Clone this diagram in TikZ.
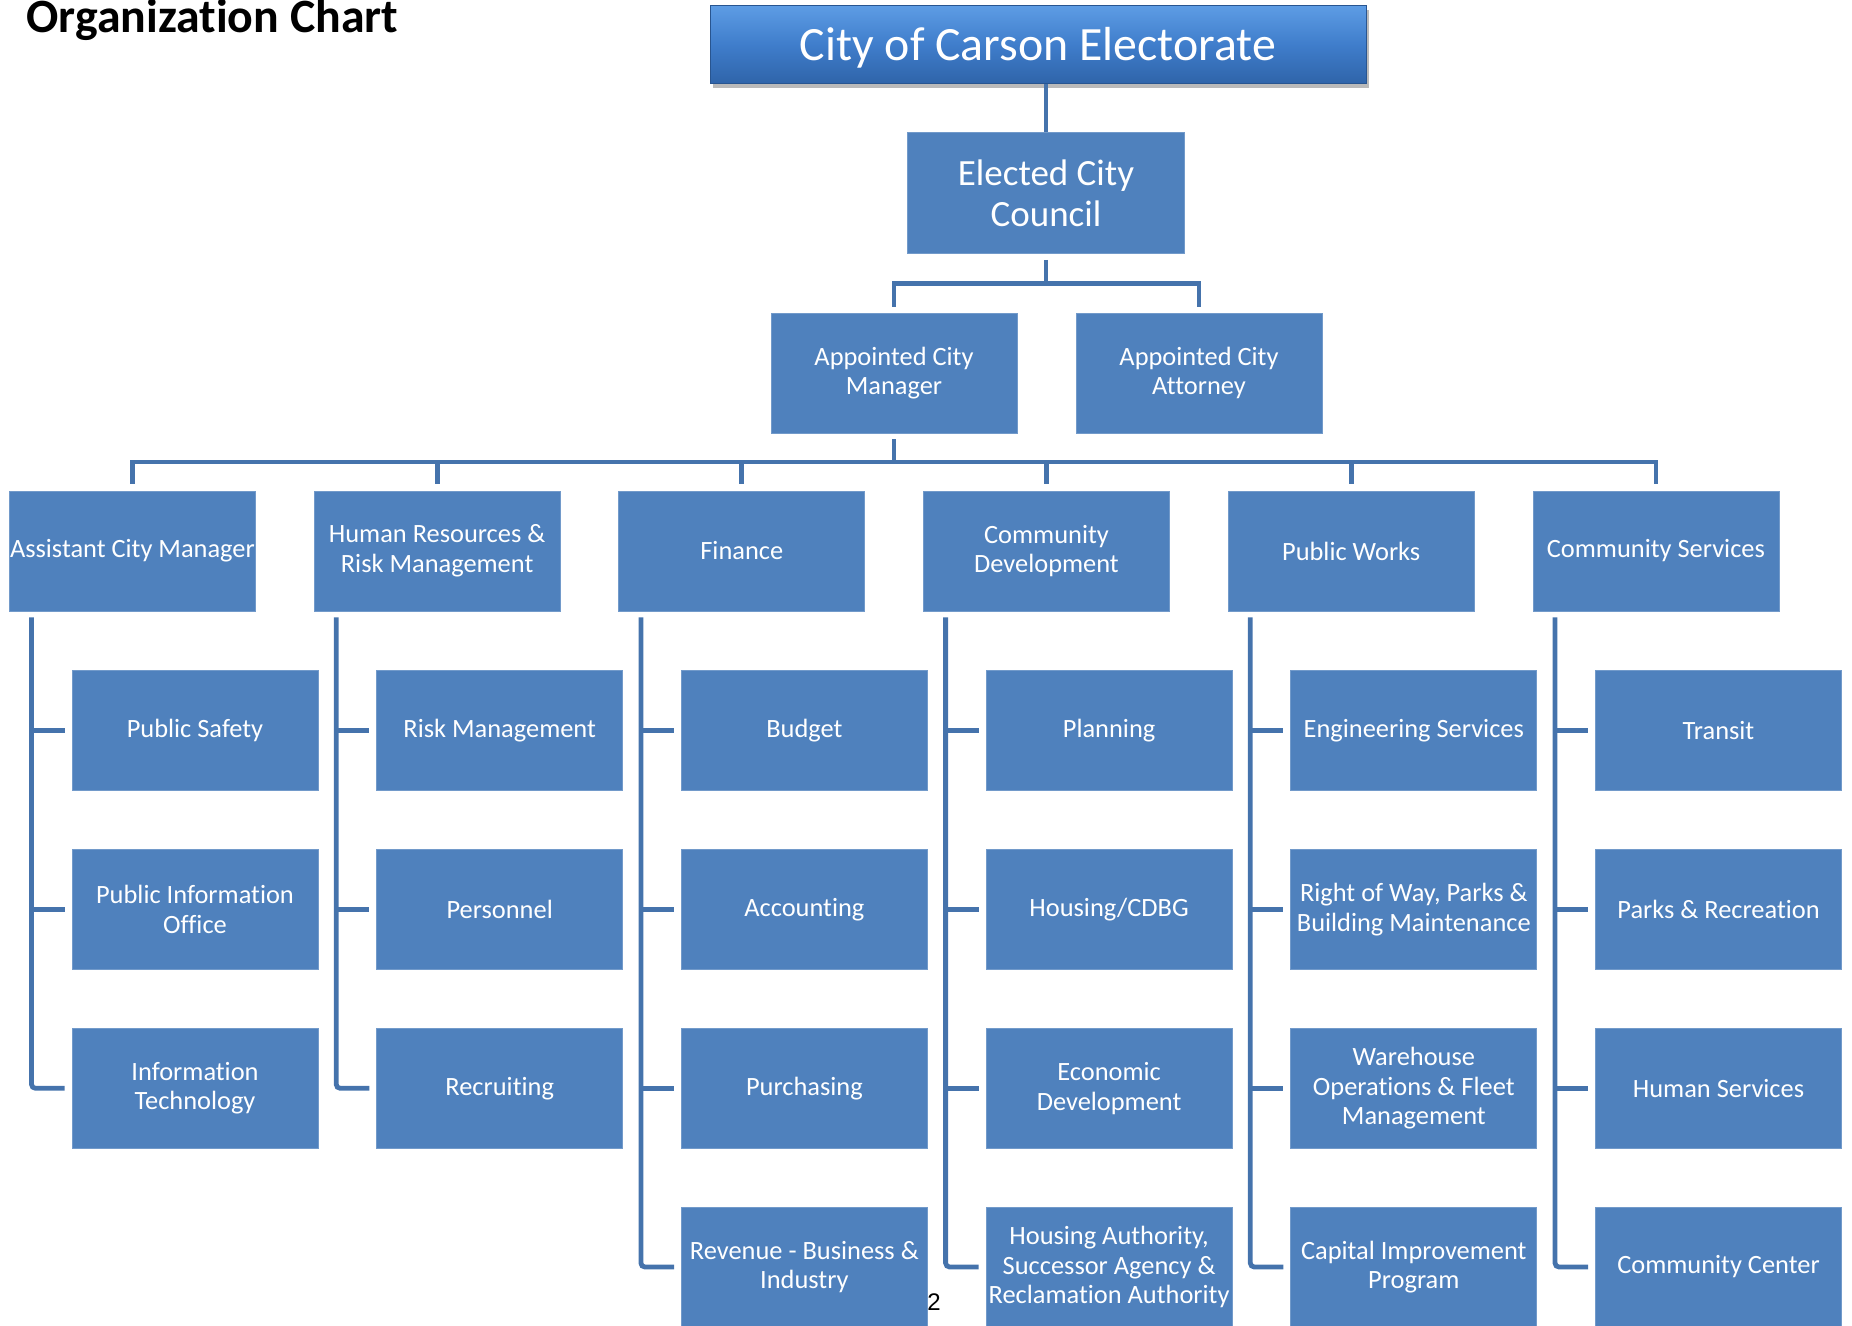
\documentclass[tikz,border=0pt]{standalone}
\usepackage{fontspec}
\setmainfont{Carlito}[Ligatures=NoCommon]
\newfontfamily\pagenumfont{Liberation Sans}
\usepackage{tikz}
\usetikzlibrary{positioning, calc, shadows}

\definecolor{boxblue}{HTML}{4F81BD}
\definecolor{linkblue}{HTML}{4573AC}
\definecolor{bannertop}{HTML}{5D9CE4}
\definecolor{bannermid}{HTML}{3F7DCB}
\definecolor{bannerbot}{HTML}{2F64A9}

\begin{document}
\begin{tikzpicture}[x=0.5pt, y=-0.5pt,
		unit/.style={rectangle, fill=boxblue, draw=boxblue!80!white, line width=0.4pt, text=white, align=center, inner sep=0pt, minimum width=123pt, minimum height=60pt, font=\fontsize{13.2}{14.8}\selectfont},
		link/.style={draw=linkblue, line width=2.4pt},
		sublink/.style={link, shorten >=3.5pt}
	]
		\useasboundingbox (0,0) rectangle (1852,1326);
		\node[anchor=base west, inner sep=0pt, font=\fontsize{23.9}{28}\selectfont\bfseries] (title) at (26,33) {Organization Chart};
		\node[rectangle, minimum width=328pt, minimum height=39pt, top color=bannertop, bottom color=bannerbot, middle color=bannermid,
			draw=bannerbot!85!black, line width=0.5pt, text=white, font=\fontsize{23.9}{28}\selectfont,
			drop shadow={shadow xshift=1.5pt, shadow yshift=-2pt, opacity=0.45, fill=black!60}] (electorate) at (1038,45) {\raisebox{-1.6pt}[\height][\depth]{City of Carson Electorate}};
		\node[unit, minimum width=138.5pt, minimum height=60.5pt, font=\fontsize{18.5}{20.5}\selectfont] (council) at (1046,193) {Elected City\\Council};
		\node[unit] (manager) at (894,373) {Appointed City\\Manager};
		\node[unit] (attorney) at (1199,373) {Appointed City\\Attorney};

		\node[unit] (acm) at (132.4,551) {Assistant City Manager};
		\node[unit] (hr) at (437.1,551) {Human Resources \&\\Risk Management};
		\node[unit] (fin) at (741.8,551) {Finance};
		\node[unit] (cd) at (1046.5,551) {Community\\Development};
		\node[unit] (pw) at (1351.2,551) {Public Works};
		\node[unit] (cs) at (1655.9,551) {Community Services};

		\node[unit] (acm-1) at (195,730.4) {Public Safety};
		\node[unit] (acm-2) at (195,909.3) {Public Information\\Office};
		\node[unit] (acm-3) at (195,1088.3) {Information\\Technology};

		\node[unit] (hr-1) at (499.7,730.4) {Risk Management};
		\node[unit] (hr-2) at (499.7,909.3) {Personnel};
		\node[unit] (hr-3) at (499.7,1088.3) {Recruiting};

		\node[unit] (fin-1) at (804.4,730.4) {Budget};
		\node[unit] (fin-2) at (804.4,909.3) {Accounting};
		\node[unit] (fin-3) at (804.4,1088.3) {Purchasing};
		\node[unit] (fin-4) at (804.4,1267) {Revenue - Business \&\\Industry};

		\node[unit] (cd-1) at (1109.1,730.4) {Planning};
		\node[unit] (cd-2) at (1109.1,909.3) {Housing/CDBG};
		\node[unit] (cd-3) at (1109.1,1088.3) {Economic\\Development};
		\node[unit] (cd-4) at (1109.1,1267) {Housing Authority,\\Successor Agency \&\\Reclamation Authority};

		\node[unit] (pw-1) at (1413.8,730.4) {Engineering Services};
		\node[unit] (pw-2) at (1413.8,909.3) {Right of Way, Parks \&\\Building Maintenance};
		\node[unit] (pw-3) at (1413.8,1088.3) {Warehouse\\Operations \& Fleet\\Management};
		\node[unit] (pw-4) at (1413.8,1267) {Capital Improvement\\Program};

		\node[unit] (cs-1) at (1718.5,730.4) {Transit};
		\node[unit] (cs-2) at (1718.5,909.3) {Parks \& Recreation};
		\node[unit] (cs-3) at (1718.5,1088.3) {Human Services};
		\node[unit] (cs-4) at (1718.5,1267) {Community Center};

		\draw[link] (electorate.south -| council.north) -- (council.north);
		\coordinate (cbus) at ($(council.south)!.5!(manager.north -| council.south)$);
		\draw[link, shorten <=3pt] (council.south) -- (cbus);
		\draw[link, shorten <=3pt, shorten >=3pt] (manager.north) |- (cbus) -| (attorney.north);

		\coordinate (mbus) at ($(manager.south)!.5!(acm.north -| manager.south)$);
		\draw[link, shorten <=3pt] (manager.south) -- (mbus);
		\draw[link, shorten <=3.5pt, shorten >=3.5pt] (acm.north) |- (mbus) -| (cs.north);
		\draw[link, shorten <=3.5pt] (hr.north) -- (hr.north |- mbus);
		\draw[link, shorten <=3.5pt] (fin.north) -- (fin.north |- mbus);
		\draw[link, shorten <=3.5pt] (cd.north) -- (cd.north |- mbus);
		\draw[link, shorten <=3.5pt] (pw.north) -- (pw.north |- mbus);

		\coordinate (acm-t) at ([xshift=11.25pt, yshift=-3pt]acm.south west);
		\draw[sublink, rounded corners=2pt] (acm-t) |- (acm-3.west);
		\draw[sublink] (acm-t |- acm-1.west) -- (acm-1.west);
		\draw[sublink] (acm-t |- acm-2.west) -- (acm-2.west);

		\coordinate (hr-t) at ([xshift=11.25pt, yshift=-3pt]hr.south west);
		\draw[sublink, rounded corners=2pt] (hr-t) |- (hr-3.west);
		\draw[sublink] (hr-t |- hr-1.west) -- (hr-1.west);
		\draw[sublink] (hr-t |- hr-2.west) -- (hr-2.west);

		\coordinate (fin-t) at ([xshift=11.25pt, yshift=-3pt]fin.south west);
		\draw[sublink, rounded corners=2pt] (fin-t) |- (fin-4.west);
		\draw[sublink] (fin-t |- fin-1.west) -- (fin-1.west);
		\draw[sublink] (fin-t |- fin-2.west) -- (fin-2.west);
		\draw[sublink] (fin-t |- fin-3.west) -- (fin-3.west);

		\coordinate (cd-t) at ([xshift=11.25pt, yshift=-3pt]cd.south west);
		\draw[sublink, rounded corners=2pt] (cd-t) |- (cd-4.west);
		\draw[sublink] (cd-t |- cd-1.west) -- (cd-1.west);
		\draw[sublink] (cd-t |- cd-2.west) -- (cd-2.west);
		\draw[sublink] (cd-t |- cd-3.west) -- (cd-3.west);

		\coordinate (pw-t) at ([xshift=11.25pt, yshift=-3pt]pw.south west);
		\draw[sublink, rounded corners=2pt] (pw-t) |- (pw-4.west);
		\draw[sublink] (pw-t |- pw-1.west) -- (pw-1.west);
		\draw[sublink] (pw-t |- pw-2.west) -- (pw-2.west);
		\draw[sublink] (pw-t |- pw-3.west) -- (pw-3.west);

		\coordinate (cs-t) at ([xshift=11.25pt, yshift=-3pt]cs.south west);
		\draw[sublink, rounded corners=2pt] (cs-t) |- (cs-4.west);
		\draw[sublink] (cs-t |- cs-1.west) -- (cs-1.west);
		\draw[sublink] (cs-t |- cs-2.west) -- (cs-2.west);
		\draw[sublink] (cs-t |- cs-3.west) -- (cs-3.west);

		\node[anchor=base west, inner sep=0pt, font=\pagenumfont\fontsize{12}{14}\selectfont] (pagenum) at (927,1310) {2};
	\end{tikzpicture}
\end{document}
